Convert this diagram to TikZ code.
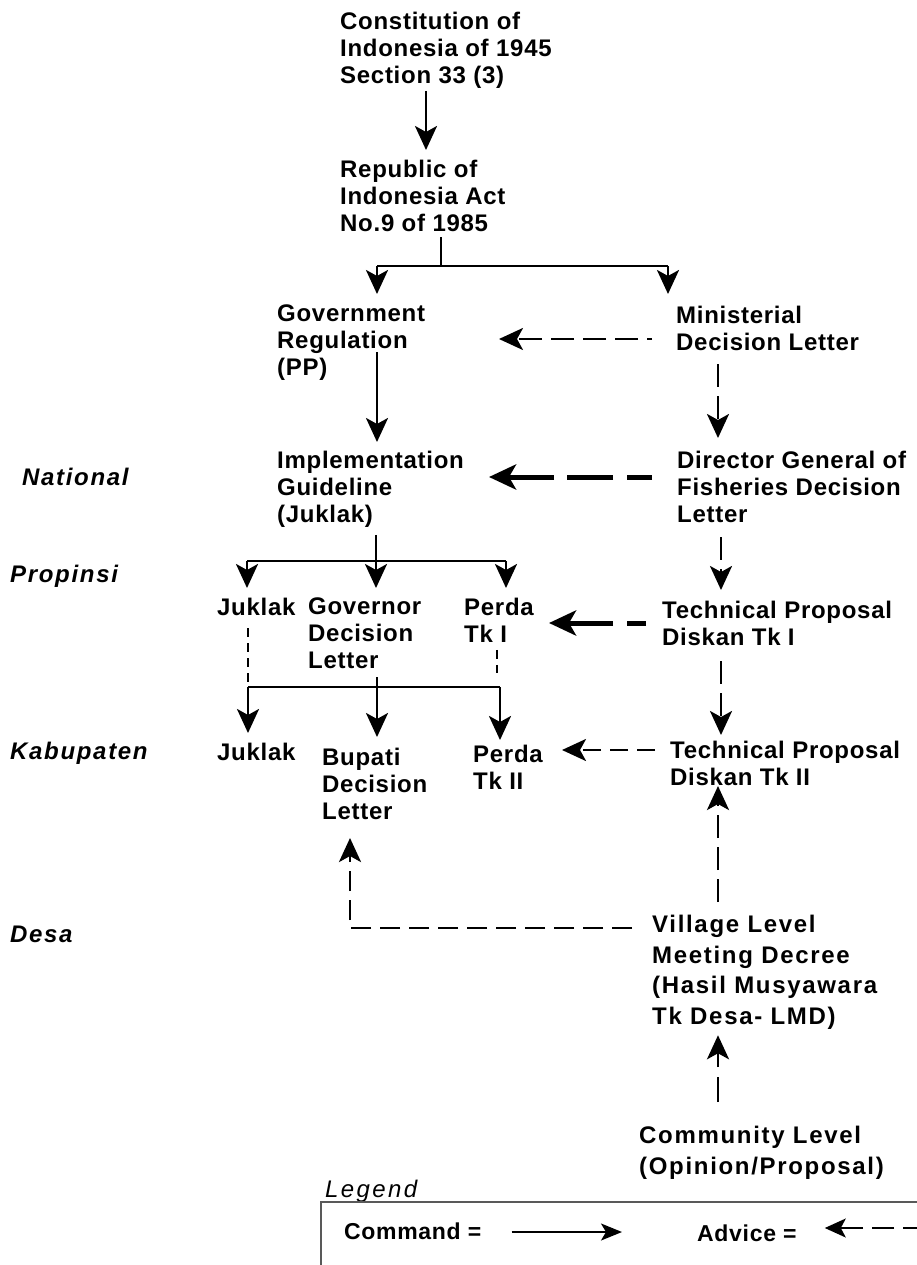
\documentclass[tikz,border=0pt]{standalone}
\usepackage{fontspec}
\setmainfont{Liberation Sans}[LetterSpace=3]
\newfontfamily\widefont{Liberation Sans}[LetterSpace=7]
\newfontfamily\lvlfont{Liberation Sans}[LetterSpace=7]
\newfontfamily\legfont{Liberation Sans}[LetterSpace=10]
\usetikzlibrary{arrows.meta}
\begin{document}
\begin{tikzpicture}[x=1pt,y=-1pt,
 txt/.style={anchor=north west,inner sep=0pt,align=left,font=\fontsize{24}{27}\selectfont\bfseries},
 widetxt/.style={anchor=north west,inner sep=0pt,align=left,font=\widefont\fontsize{24}{30.5}\selectfont\bfseries},
 lvl/.style={anchor=north west,inner sep=0pt,font=\lvlfont\fontsize{24}{27}\selectfont\bfseries\itshape},
 legtitle/.style={anchor=north west,inner sep=0pt,font=\legfont\fontsize{24}{27}\selectfont\itshape},
 legtxt/.style={anchor=north west,inner sep=0pt,font=\fontsize{23}{27}\selectfont\bfseries},
 cmd/.style={line width=2.8pt,-{Stealth[length=24pt,width=22pt,inset=6pt]}},
 tree/.style={line width=2.8pt},
 adv/.style={line width=2.8pt,dash pattern=on 23pt off 9pt,-{Stealth[length=24pt,width=22pt,inset=6pt]}},
 advthick/.style={line width=5pt,-{Stealth[length=27pt,width=25pt,inset=7pt]}},
 dots/.style={line width=2.2pt,dash pattern=on 9pt off 6pt},
 legcmd/.style={line width=1.6pt,-{Stealth[length=21pt,width=17pt,inset=5pt]}},
 legadv/.style={line width=1.6pt,dash pattern=on 22pt off 9pt,-{Stealth[length=21pt,width=19pt,inset=5pt]}},
 legbox/.style={line width=1.5pt,draw=black!65}
]
\useasboundingbox (0,0) rectangle (917,1265);

% ---------- nodes ----------
\node[txt] (const) at (340,12) {Constitution of\\Indonesia of 1945\\Section 33 (3)};
\node[txt] (rep) at (340,160) {Republic of\\Indonesia Act\\No.9 of 1985};
\node[txt] (gov) at (277,305) {Government\\Regulation\\(PP)};
\node[txt] (min) at (676,306) {Ministerial\\Decision Letter};
\node[txt] (impl) at (277,451) {Implementation\\Guideline\\(Juklak)};
\node[txt] (dg) at (677,451) {Director General of\\Fisheries Decision\\Letter};

\node[lvl] (nat) at (22,468) {National};
\node[lvl] (prop) at (10,565) {Propinsi};
\node[lvl] (kab) at (10,742) {Kabupaten};
\node[lvl] (desa) at (10,926) {Desa};

\node[txt] (juk1) at (217,598) {Juklak};
\node[txt] (gvn) at (308,598) {Governor\\Decision\\Letter};
\node[txt] (perda1) at (464,598) {Perda\\Tk I};
\node[txt] (tp1) at (662,601) {Technical Proposal\\Diskan Tk I};

\node[txt] (juk2) at (217,743) {Juklak};
\node[txt] (bup) at (322,748) {Bupati\\Decision\\Letter};
\node[txt] (perda2) at (473,745) {Perda\\Tk II};
\node[txt] (tp2) at (670,741) {Technical Proposal\\Diskan Tk II};

\node[widetxt] (vil) at (652,915) {Village Level\\Meeting Decree\\(Hasil Musyawara\\Tk Desa- LMD)};
\node[widetxt] (com) at (639,1126) {Community Level\\(Opinion/Proposal)};

\node[legtitle] (legend) at (325,1180) {Legend};
\node[legtxt] (command) at (344,1223) {Command =};
\node[legtxt] (advice) at (697,1225) {Advice =};

% ---------- helper coordinates ----------
\coordinate (x1) at (426,0);
\coordinate (j0) at (441,266);
\coordinate (jl) at (377,266);
\coordinate (jr) at (668,266);
\coordinate (x2) at (718,0);
\coordinate (x3) at (721,0);
\coordinate (t1) at (499,339);
\coordinate (s1) at (377,352);
\coordinate (t2) at (489,477);
\coordinate (j2) at (376,561);
\coordinate (j2l) at (247,561);
\coordinate (j2r) at (506,561);
\coordinate (t3) at (549,623);
\coordinate (j3) at (377,687);
\coordinate (j3l) at (248,687);
\coordinate (j3r) at (500,687);
\coordinate (p1e) at (497,673);
\coordinate (t4) at (562,750);
\coordinate (b1) at (350,928);
\coordinate (c2) at (622,1232);
\coordinate (a1) at (925,1228);

% ---------- connectors ----------
\draw[cmd,shorten <=2pt,shorten >=10pt] (const.south -| x1) -- (rep.north -| x1);
\draw[tree,shorten <=5pt] (rep.south -| j0) -- (j0);
\draw[tree] (jl) -- (jr);
\draw[cmd,shorten >=11pt] (jl) -- (gov.north -| jl);
\draw[cmd,shorten >=12pt] (jr) -- (min.north -| jr);
\draw[adv,dash phase=18pt,shorten <=24pt] (min.west |- t1) -- (t1);
\draw[cmd,shorten >=9pt] (s1) -- (impl.north -| s1);
\draw[adv,shorten <=13pt,shorten >=13pt] (min.south -| x2) -- (dg.north -| x2);
\draw[advthick,dash pattern=on 25pt off 14pt on 46pt off 13pt on 300pt off 10pt,shorten <=25pt] (dg.west |- t2) -- (t2);
\draw[tree,shorten <=7pt] (impl.south -| j2) -- (j2);
\draw[tree] (j2l) -- (j2r);
\draw[cmd,shorten >=10pt] (j2l) -- (juk1.north -| j2l);
\draw[cmd,shorten >=10pt] (j2) -- (gvn.north -| j2);
\draw[cmd,shorten >=10pt] (j2r) -- (perda1.north -| j2r);
\draw[adv,shorten <=14pt,shorten >=11pt] (dg.south -| x3) -- (tp1.north -| x3);
\draw[advthick,dash pattern=on 19pt off 14pt on 300pt off 10pt,shorten <=16pt] (tp1.west |- t3) -- (t3);
\draw[dots,shorten <=12pt] (juk1.south -| j3l) -- (j3l);
\draw[dots,shorten <=7pt] (perda1.south -| p1e) -- (p1e);
\draw[tree] (j3l) -- (j3r);
\draw[cmd,shorten <=8pt,shorten >=11pt] (gvn.south -| j3) -- (bup.north -| j3);
\draw[cmd,shorten >=10pt] (j3l) -- (juk2.north -| j3l);
\draw[cmd,shorten >=5pt] (j3r) -- (perda2.north -| j3r);
\draw[adv,shorten <=15pt,shorten >=6pt] (tp1.south -| x3) -- (tp2.north -| x3);
\draw[adv,dash pattern=on 18pt off 9pt,shorten <=15pt] (tp2.west |- t4) -- (t4);
\draw[adv,shorten <=13pt] (vil.north -| x2) -- (tp2.south -| x2);
\draw[adv,dash pattern=on 20pt off 9pt,shorten <=20pt,shorten >=18pt] (vil.west |- b1) -- (b1) -- (bup.south -| b1);
\draw[adv,dash pattern=on 25pt off 10pt,shorten <=24pt,shorten >=6pt] (com.north -| x2) -- (vil.south -| x2);

% ---------- legend ----------
\draw[legbox] (935,1202) -- (321,1202) -- (321,1290);
\draw[legcmd,shorten <=30pt] (command.east |- c2) -- (c2);
\draw[legadv,shorten >=28pt] (a1) -- (advice.east |- a1);
\end{tikzpicture}
\end{document}
